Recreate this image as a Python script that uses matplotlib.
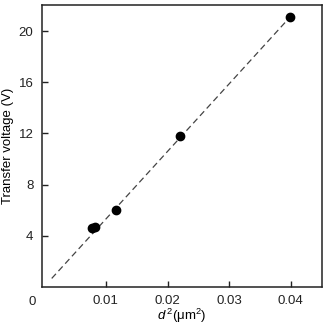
import matplotlib
matplotlib.use("Agg")
import matplotlib.pyplot as plt

plt.rcParams["font.family"] = ["Liberation Sans", "DejaVu Sans"]
plt.rcParams["mathtext.fontset"] = "custom"
plt.rcParams["mathtext.rm"] = "Liberation Sans"
plt.rcParams["mathtext.it"] = "Liberation Sans:italic"

# measured points: d^2 (um^2) vs transfer voltage (V)
d2 = [0.0078, 0.0082, 0.0116, 0.0221, 0.0399]
volt = [4.6, 4.7, 6.0, 11.8, 21.1]

# linear fit line (dashed)
fit_x = [0.0012, 0.0399]
fit_y = [0.66, 21.1]

xticks = [0.01, 0.02, 0.03, 0.04]
xlabels = ["0.01", "0.02", "0.03", "0.04"]
yticks = [4, 8, 12, 16, 20]

fig = plt.figure(figsize=(3.27, 3.26), dpi=100)
ax = fig.add_axes([0.128, 0.12, 0.857, 0.865])

ax.plot(fit_x, fit_y, color="#444444", lw=0.9, dashes=(5, 3))
ax.plot(d2, volt, "o", color="black", ms=6)

ax.set_xlim(-0.0004, 0.0451)
ax.set_ylim(0, 22.05)
ax.set_xticks(xticks)
ax.set_xticklabels(xlabels)
ax.set_yticks(yticks)
ax.tick_params(direction="in", length=4, width=1, labelsize=9.5, colors="#222222", pad=6)
for s in ax.spines.values():
    s.set_linewidth(1.1)
    s.set_color("#222222")

# shared origin label
ax.text(-0.0020, -1.15, "0", fontsize=9.5, ha="center", va="center", color="#222222")

ax.set_xlabel(r"$d^{\,2}$(μm$^2$)", fontsize=9.5)
ax.set_ylabel("Transfer voltage (V)", fontsize=9.5)
ax.xaxis.set_label_coords(0.5, -0.102)
ax.yaxis.set_label_coords(-0.12, 0.5)
ax.xaxis.label.set_va("center")
ax.yaxis.label.set_va("center")

fig.savefig("out.png", dpi=100)
